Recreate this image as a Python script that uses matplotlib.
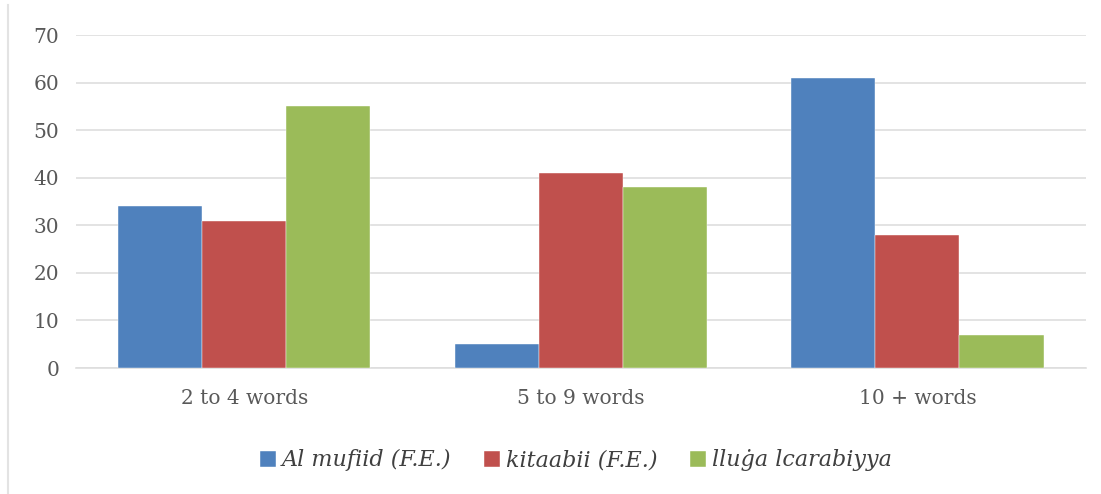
import matplotlib.pyplot as plt
import numpy as np
from matplotlib.lines import Line2D

categories = ['2 to 4 words', '5 to 9 words', '10 + words']
series_names = ['Al mufiid (F.E.)', 'kitaabii (F.E.)', 'lluġa lcarabiyya']
al_mufiid = [34, 5, 61]
kitaabii = [31, 41, 28]
iluga = [55, 38, 7]
colors = ['#4F81BD', '#C0504D', '#9BBB59']

fig = plt.figure(figsize=(11.01, 4.94), dpi=100)
fig.patch.set_facecolor('white')
ax = fig.add_axes([0.069, 0.255, 0.917, 0.674])

x = np.arange(len(categories))
w = 0.25
for i, (vals, name, c) in enumerate(zip([al_mufiid, kitaabii, iluga], series_names, colors)):
    ax.bar(x + (i - 1) * w, vals, width=w, color=c, label=name, zorder=3,
           edgecolor='white', linewidth=0.3)

ax.set_xlim(-0.5, 2.5)
ax.set_ylim(0, 70)
ax.set_yticks(range(0, 71, 10))
ax.set_xticks(x)
ax.set_xticklabels(categories)
ax.grid(axis='y', color='#dedede', lw=1.2, zorder=0)
for s in ['top', 'right', 'left']:
    ax.spines[s].set_visible(False)
ax.spines['bottom'].set_color('#dedede')
ax.spines['bottom'].set_linewidth(1.2)
ax.tick_params(axis='both', length=0, colors='#595959', labelsize=14.5)
ax.tick_params(axis='y', pad=12)
ax.tick_params(axis='x', pad=15)
for lab in ax.get_xticklabels() + ax.get_yticklabels():
    lab.set_family('DejaVu Serif')

leg = fig.legend(loc='center', bbox_to_anchor=(0.523, 0.068), ncol=3, frameon=False,
                 prop={'family': 'DejaVu Serif', 'style': 'italic', 'size': 16},
                 handlelength=0.75, handleheight=0.75, handletextpad=0.25, columnspacing=1.45)
for t in leg.get_texts():
    t.set_color('#404040')

fig.add_artist(Line2D([8 / 1101, 8 / 1101], [0, 1 - 5 / 494], transform=fig.transFigure,
                      color='#e3e3e3', lw=1.5))

fig.savefig('out.png', dpi=100, facecolor='white')
